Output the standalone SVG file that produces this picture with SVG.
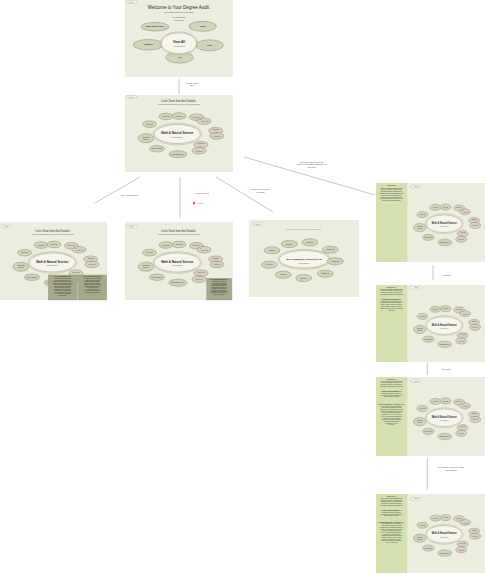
<svg xmlns="http://www.w3.org/2000/svg" width="485" height="573" viewBox="0 0 485 573">
<style>
text{font-family:"Liberation Sans",Arial,sans-serif}
.bg{fill:#ebeedf}
.tag{fill:#f7f7f1;stroke:#9a9a8c;stroke-width:0.3}
.tagt{font-size:1.2px;fill:#555;text-anchor:middle}
.t1{font-size:4.5px;fill:#2a2a2a;text-anchor:middle}
.t2{font-size:3px;fill:#2a2a2a;text-anchor:middle}
.st{font-size:1.2px;fill:#444;text-anchor:middle}
.p{fill:#d0d5b9;stroke:#878c6c;stroke-width:0.5}
.q{fill:#d7d0bf;stroke:#97846f;stroke-width:0.5}
.pt{font-size:1.6px;fill:#2a2a2a;text-anchor:middle}
.core{fill:#f6f5eb;stroke:#959879;stroke-width:0.5}
.ring{fill:none;stroke:#cfae9f;stroke-width:0.6}
.ct{font-size:2.9px;font-weight:bold;fill:#1e1e1e;text-anchor:middle}
.cs{font-size:1.3px;fill:#555;text-anchor:middle}
.conn{stroke:#999;stroke-width:0.55;fill:none}
.lbl{font-size:1.5px;fill:#3a3a3a;text-anchor:middle}
.side{fill:#d5e0b1}
.sh{font-size:1.5px;font-weight:bold;fill:#2a2a2a;text-anchor:middle}
.sx{font-size:1.8px;fill:#333;text-anchor:middle}
.sb{font-size:1.25px;fill:#333;text-anchor:middle}
.pop{fill:#a6a88a;stroke:#7f8167;stroke-width:0.3}
.ph{font-size:1.2px;font-weight:bold;fill:#1e1e1e;text-anchor:middle}
.pb{font-size:1.05px;fill:#222;text-anchor:middle}
</style>
<defs>
<g id="cluster">
<ellipse class="ring" rx="24.5" ry="10.8"/>
<ellipse class="core" rx="23" ry="9.5"/>
<text class="ct" y="0">Math &amp; Natural Science</text>
<text class="cs" y="3.6">credits remaining: 6</text>
<ellipse class="p" cx="-11.3" cy="-17.5" rx="7" ry="3.3"/>
<ellipse class="p" cx="1.7" cy="-18" rx="7" ry="3.3"/>
<ellipse class="q" cx="19.2" cy="-16.8" rx="7" ry="3.3"/>
<ellipse class="q" cx="26.7" cy="-12.8" rx="7" ry="3.3"/>
<ellipse class="p" cx="-27.8" cy="-9.8" rx="7" ry="3.3"/>
<ellipse class="q" cx="38.4" cy="-3.3" rx="7" ry="3.3"/>
<ellipse class="q" cx="39.7" cy="1.9" rx="7" ry="3.3"/>
<ellipse class="p" cx="-31.3" cy="4.2" rx="8" ry="4.5"/>
<ellipse class="q" cx="23.7" cy="10.7" rx="7" ry="3.3"/>
<ellipse class="q" cx="21.7" cy="16.7" rx="7" ry="3.3"/>
<ellipse class="p" cx="-20.3" cy="14.7" rx="7.5" ry="3.3"/>
<ellipse class="p" cx="0.7" cy="20.2" rx="9" ry="3.5"/>
<text class="pt" x="-11.3" y="-16.9">MATH 20</text>
<text class="pt" x="1.7" y="-17.4">MATH 21</text>
<text class="pt" x="18.6" y="-16.4">MATH 10</text>
<text class="pt" x="23" y="-14">&amp;</text>
<text class="pt" x="27.5" y="-11.6">MATH 11</text>
<text class="pt" x="-27.8" y="-9.2">MATH 25</text>
<text class="pt" x="38.4" y="-3.6">CS Intro</text>
<text class="pt" x="39" y="-0.6">&amp;</text>
<text class="pt" x="39.7" y="2.9">MATH 31</text>
<text class="pt" x="-31.3" y="3.8">Find a Bio</text>
<text class="pt" x="-31.3" y="5.9">Elective</text>
<text class="pt" x="23.7" y="10.2">MATH 35</text>
<text class="pt" x="22.7" y="13.4">&amp;</text>
<text class="pt" x="21.7" y="17.8">MATH 36</text>
<text class="pt" x="-20.3" y="15.3">MATH Elective</text>
<text class="pt" x="0.7" y="20.7" style="font-size:1.4px">BIOCHEMISTRY (2)</text>
</g>
</defs>

<g id="frame1">
<rect class="bg" x="125" y="0" width="108" height="77"/>
<rect class="tag" x="125.7" y="0.8" width="11" height="2.6" rx="1.3"/>
<text class="tagt" x="131.2" y="2.6">Frame 1</text>
<text class="t1" x="179" y="8.5">Welcome to Your Degree Audit.</text>
<text class="st" x="179" y="12.6">Click on a category below to explore your requirements.</text>
<text class="st" x="179" y="17.8">Major: Computer Science</text>
<text class="st" x="179" y="20.5">Minor: Engineering</text>
<ellipse class="p" cx="155" cy="26.7" rx="14" ry="4.3"/>
<ellipse class="p" cx="202.7" cy="26.3" rx="13.7" ry="5"/>
<ellipse class="p" cx="148.3" cy="44.7" rx="15" ry="5.3"/>
<ellipse class="p" cx="209.5" cy="45.3" rx="13.8" ry="5.5"/>
<ellipse class="p" cx="179.5" cy="57.5" rx="13.8" ry="5.6"/>
<ellipse class="ring" cx="179" cy="43.3" rx="19" ry="11.6"/>
<ellipse class="core" cx="179" cy="43.3" rx="17.7" ry="10.5"/>
<text class="pt" x="155" y="27.3" style="font-weight:bold">Math &amp; Natural Science</text>
<text class="pt" x="202.7" y="26.9" style="font-weight:bold">Writing</text>
<text class="pt" x="148.3" y="45.3" style="font-weight:bold">Humanities</text>
<text class="pt" x="209.5" y="45.9" style="font-weight:bold">Health</text>
<text class="pt" x="179.5" y="58.1" style="font-weight:bold">Arts</text>
<text class="ct" x="179" y="43.2" style="font-size:3.2px">View All</text>
<text class="cs" x="179" y="46.8">credits remaining: 42</text>
</g>

<g id="frame2">
<rect class="bg" x="125" y="95" width="108" height="77"/>
<rect class="tag" x="125.7" y="95.7" width="11" height="2.6" rx="1.3"/>
<text class="tagt" x="131.2" y="97.5">Frame 2</text>
<text class="t2" x="179" y="101.6">Let's Dive Into the Details.</text>
<text class="st" x="179" y="105">To complete Math &amp; Natural Science requirement, click on a class to see details.</text>
<use href="#cluster" transform="translate(177.3,134)"/>
</g>

<g id="frame3">
<rect class="bg" x="0" y="222" width="107" height="78"/>
<rect class="tag" x="1" y="225.3" width="11" height="2.6" rx="1.3"/>
<text class="tagt" x="6.5" y="227.1">Frame 3</text>
<text class="t2" x="53" y="231.5">Let's Dive Into the Details.</text>
<text class="st" x="53" y="235.2">To complete Math &amp; Natural Science requirement, click on a class to see details.</text>
<use href="#cluster" transform="translate(52.3,262.5)"/>
<rect class="pop" x="48.3" y="275" width="29" height="25"/>
<text class="ph" x="62.8" y="277.2">MATH 105 Calculus for Bio (4)</text>
<text class="pb" x="62.8" y="279">Introduction to differential and integral</text>
<text class="pb" x="62.8" y="280.5">calculus with applications to the life</text>
<text class="pb" x="62.8" y="282">sciences. Topics include limits, derivatives,</text>
<text class="pb" x="62.8" y="283.5">optimization, exponential growth and decay,</text>
<text class="pb" x="62.8" y="285">and elementary differential equations.</text>
<text class="pb" x="62.8" y="286.5">Models of population dynamics and</text>
<text class="pb" x="62.8" y="288">biochemical kinetics are discussed.</text>
<text class="pb" x="62.8" y="289.5">Prerequisite: MATH 10 or placement.</text>
<text class="pb" x="62.8" y="291">Satisfies the Math &amp; Natural Science</text>
<text class="pb" x="62.8" y="292.5">requirement. Offered every semester.</text>
<text class="pb" x="62.8" y="294">Three lectures and one discussion</text>
<text class="pb" x="62.8" y="295.5">section per week.</text>
<rect class="pop" x="78.3" y="275" width="28.4" height="25"/>
<text class="ph" x="92.5" y="277.2">MATH 106 Calculus II for Bio (4)</text>
<text class="pb" x="92.5" y="279">Continuation of MATH 105. Integration</text>
<text class="pb" x="92.5" y="280.5">techniques, sequences and series,</text>
<text class="pb" x="92.5" y="282">probability distributions and an</text>
<text class="pb" x="92.5" y="283.5">introduction to linear algebra with</text>
<text class="pb" x="92.5" y="285">applications to genetics, ecology and</text>
<text class="pb" x="92.5" y="286.5">physiology. Emphasis on modeling</text>
<text class="pb" x="92.5" y="288">real biological data sets.</text>
<text class="pb" x="92.5" y="289.5">Prerequisite: MATH 105.</text>
<text class="pb" x="92.5" y="291">Satisfies the Math &amp; Natural Science</text>
<text class="pb" x="92.5" y="292.5">requirement. Offered spring only.</text>
</g>

<g id="frame4">
<rect class="bg" x="125" y="222" width="108" height="78"/>
<rect class="tag" x="126" y="225.3" width="11" height="2.6" rx="1.3"/>
<text class="tagt" x="131.5" y="227.1">Frame 4</text>
<text class="t2" x="179" y="231.5">Let's Dive Into the Details.</text>
<text class="st" x="179" y="235.2">To complete Math &amp; Natural Science requirement, click on a class to see details.</text>
<use href="#cluster" transform="translate(177.3,262.5)"/>
<rect class="pop" x="206.7" y="278.3" width="25" height="21.7"/>
<text class="ph" x="219.2" y="280.4">MATH 105 Calculus for Bio (4)</text>
<text class="pb" x="219.2" y="282.2">Introduction to differential and</text>
<text class="pb" x="219.2" y="283.6">integral calculus with applications</text>
<text class="pb" x="219.2" y="285">to the life sciences. Topics include</text>
<text class="pb" x="219.2" y="286.4">limits, derivatives, optimization,</text>
<text class="pb" x="219.2" y="287.8">exponential growth and decay, and</text>
<text class="pb" x="219.2" y="289.2">elementary differential equations.</text>
<text class="pb" x="219.2" y="290.6">Models of population dynamics and</text>
<text class="pb" x="219.2" y="292">biochemical kinetics are discussed.</text>
<text class="pb" x="219.2" y="293.4">Prerequisite: MATH 10 or placement.</text>
<text class="pb" x="219.2" y="294.8">Offered every semester.</text>
</g>

<g id="frame5">
<rect class="bg" x="249" y="220" width="110" height="77"/>
<rect class="tag" x="252.7" y="222.7" width="10" height="2.6" rx="1.3"/>
<text class="tagt" x="257.7" y="224.5">Frame 5</text>
<text class="st" x="303" y="229.7" style="font-size:2px;fill:#8a8a80">You must take 2 of the following courses</text>
<ellipse class="ring" cx="304.3" cy="259.3" rx="26.5" ry="10"/>
<ellipse class="core" cx="304.3" cy="259.3" rx="25" ry="8.7"/>
<text class="ct" x="304.3" y="260" style="font-size:2.5px">BIOCHEMISTRY ELECTIVE (2)</text>
<text class="cs" x="304.3" y="263.7">credits remaining: 6</text>
<ellipse class="p" cx="289.3" cy="244" rx="8" ry="3.6"/>
<ellipse class="p" cx="310" cy="242.3" rx="8" ry="3.6"/>
<ellipse class="p" cx="330.3" cy="249.7" rx="8" ry="3.6"/>
<ellipse class="p" cx="335.3" cy="261.3" rx="8" ry="3.6"/>
<ellipse class="p" cx="325.3" cy="273.7" rx="8" ry="3.6"/>
<ellipse class="p" cx="303.7" cy="278" rx="8" ry="3.6"/>
<ellipse class="p" cx="283.3" cy="274.7" rx="8" ry="3.6"/>
<ellipse class="p" cx="269.3" cy="264.7" rx="8" ry="3.6"/>
<ellipse class="p" cx="272" cy="250.3" rx="8" ry="3.6"/>
<text class="pt" x="289.3" y="244.6">BIO 120</text>
<text class="pt" x="310" y="242.9">BIO 130</text>
<text class="pt" x="330.3" y="250.3">CHEM 140</text>
<text class="pt" x="335.3" y="261.9">CHEM 150</text>
<text class="pt" x="325.3" y="274.3">CHEM 160</text>
<text class="pt" x="303.7" y="278.6">BIO 170</text>
<text class="pt" x="283.3" y="275.3">BIO 180</text>
<text class="pt" x="269.3" y="265.3">PHYS 190</text>
<text class="pt" x="272" y="250.9">BIO 110</text>
</g>

<g id="frame6">
<rect class="bg" x="376" y="183" width="109" height="79"/>
<rect class="side" x="376" y="183" width="31.3" height="79"/>
<rect class="tag" x="410.5" y="185.3" width="11" height="2.6" rx="1.3"/>
<text class="tagt" x="416" y="187.1">‹ Frame 6</text>
<text class="sh" x="391.5" y="186.2">MATH 10 (4)</text>
<text class="sx" x="405.5" y="186.4">×</text>
<text class="sb" x="391.5" y="188.6">Topics in precalculus including functions,</text>
<text class="sb" x="391.5" y="190.4">graphs, polynomials, exponential and</text>
<text class="sb" x="391.5" y="192.2">logarithmic functions, and trigonometry.</text>
<text class="sb" x="391.5" y="194">Emphasis on problem solving and modeling</text>
<text class="sb" x="391.5" y="195.8">applications in the natural sciences.</text>
<text class="sb" x="391.5" y="197.6">Prepares students for calculus sequence.</text>
<text class="sb" x="391.5" y="199.4">Prerequisite: placement exam or MATH 5.</text>
<text class="sb" x="391.5" y="201.2">Offered fall and spring semesters.</text>
<use href="#cluster" transform="translate(444.2,223.7) scale(0.78,0.93)"/>
</g>

<g id="frame7">
<rect class="bg" x="376" y="285" width="109" height="77"/>
<rect class="side" x="376" y="285" width="31.3" height="77"/>
<rect class="tag" x="410.5" y="286.3" width="11" height="2.6" rx="1.3"/>
<text class="tagt" x="416" y="288.1">‹ Frame 7</text>
<text class="sh" x="391.5" y="287.6">MATH 10 (4)</text>
<text class="sx" x="405.5" y="287.8">×</text>
<text class="sb" x="391.5" y="289.6">Topics in precalculus including functions,</text>
<text class="sb" x="391.5" y="291.4">graphs, polynomials, exponential and</text>
<text class="sb" x="391.5" y="293.2">logarithmic functions, and trigonometry.</text>
<text class="sb" x="391.5" y="295">Prerequisite: placement exam.  read more</text>
<text class="sh" x="391.5" y="299.6">CHEM 10 Intro Chemistry (4)</text>
<text class="sb" x="391.5" y="301.6">Fundamental principles of chemistry:</text>
<text class="sb" x="391.5" y="303.4">atomic structure, bonding, stoichiometry,</text>
<text class="sb" x="391.5" y="305.2">states of matter, solutions, equilibrium,</text>
<text class="sb" x="391.5" y="307">acids and bases. Laboratory included.</text>
<text class="sb" x="391.5" y="308.8">Satisfies the Natural Science requirement.</text>
<text class="sb" x="391.5" y="310.6">read more</text>
<use href="#cluster" transform="translate(444.2,325.5) scale(0.78,0.93)"/>
</g>

<g id="frame8">
<rect class="bg" x="376" y="377" width="109" height="79"/>
<rect class="side" x="376" y="377" width="31.3" height="79"/>
<rect class="tag" x="410.5" y="379.7" width="11" height="2.6" rx="1.3"/>
<text class="tagt" x="416" y="381.5">‹ Frame 8</text>
<text class="sh" x="391.5" y="379.8">MATH 10 (4)</text>
<text class="sx" x="405.5" y="380">×</text>
<text class="sb" x="391.5" y="381.7">Topics in precalculus including functions,</text>
<text class="sb" x="391.5" y="383.4">graphs, polynomials, exponential and</text>
<text class="sb" x="391.5" y="385.1">logarithmic functions, and trigonometry.</text>
<text class="sb" x="391.5" y="386.8">Prerequisite: placement exam.  read more</text>
<text class="sh" x="391.5" y="392.2">CHEM 10 Intro Chemistry (4)</text>
<text class="sb" x="391.5" y="394">Fundamental principles of chemistry:</text>
<text class="sb" x="391.5" y="395.7">atomic structure, bonding, stoichiometry,</text>
<text class="sb" x="391.5" y="397.4">states of matter.  read more</text>
<text class="sh" x="391.5" y="404.8">MATH 20 Calculus I (4), MATH 40 (4)</text>
<text class="sb" x="391.5" y="406.6">Limits, continuity, derivatives and their</text>
<text class="sb" x="391.5" y="408.3">applications; introduction to definite</text>
<text class="sb" x="391.5" y="410">integrals and the fundamental theorem of</text>
<text class="sb" x="391.5" y="411.7">calculus. Applications to rates of change</text>
<text class="sb" x="391.5" y="413.4">in physics, chemistry and biology.</text>
<text class="sb" x="391.5" y="415.1">Prerequisite: MATH 10 or placement.</text>
<text class="sb" x="391.5" y="416.8">MATH 40: Linear algebra and matrices,</text>
<text class="sb" x="391.5" y="418.5">vector spaces, eigenvalues and</text>
<text class="sb" x="391.5" y="420.2">applications to systems of differential</text>
<text class="sb" x="391.5" y="421.9">equations and data analysis.</text>
<text class="sb" x="391.5" y="423.6">Prerequisite: MATH 20.</text>
<text class="sb" x="391.5" y="425.3">read more</text>
<use href="#cluster" transform="translate(444.2,417.7) scale(0.78,0.93)"/>
</g>

<g id="frame9">
<rect class="bg" x="376" y="494" width="109" height="79"/>
<rect class="side" x="376" y="494" width="31.3" height="79"/>
<rect class="tag" x="410.5" y="497.5" width="11" height="2.6" rx="1.3"/>
<text class="tagt" x="416" y="499.3">‹ Frame 9</text>
<text class="sh" x="391.5" y="497.2">MATH 10 (4)</text>
<text class="sx" x="405.5" y="497.4">×</text>
<text class="sb" x="391.5" y="499">Topics in precalculus including functions,</text>
<text class="sb" x="391.5" y="500.7">graphs, polynomials, exponential and</text>
<text class="sb" x="391.5" y="502.4">logarithmic functions, and trigonometry.</text>
<text class="sb" x="391.5" y="504.1">Emphasis on modeling applications.</text>
<text class="sb" x="391.5" y="505.8">Prerequisite: placement exam.  read more</text>
<text class="sh" x="391.5" y="511.2">CHEM 10 Intro Chemistry (4)</text>
<text class="sb" x="391.5" y="513">Fundamental principles of chemistry:</text>
<text class="sb" x="391.5" y="514.7">atomic structure, bonding, stoichiometry,</text>
<text class="sb" x="391.5" y="516.4">states of matter.  read more</text>
<text class="sh" x="391.5" y="522.6">MATH 20 Calculus I (4), MATH 40 (4)</text>
<text class="sb" x="391.5" y="524.4">Limits, continuity, derivatives and their</text>
<text class="sb" x="391.5" y="526.1">applications; introduction to definite</text>
<text class="sb" x="391.5" y="527.8">integrals and the fundamental theorem of</text>
<text class="sb" x="391.5" y="529.5">calculus. Applications to rates of change</text>
<text class="sb" x="391.5" y="531.2">in physics, chemistry and biology.</text>
<text class="sb" x="391.5" y="532.9">MATH 40: Linear algebra and matrices,</text>
<text class="sb" x="391.5" y="534.6">vector spaces, eigenvalues and</text>
<text class="sb" x="391.5" y="536.3">applications to systems of differential</text>
<text class="sb" x="391.5" y="538">equations, Markov chains, and data</text>
<text class="sb" x="391.5" y="539.7">analysis in the sciences. Includes a</text>
<text class="sb" x="391.5" y="541.4">computing component. Prerequisite:</text>
<text class="sb" x="391.5" y="543.1">MATH 20.  show less</text>
<use href="#cluster" transform="translate(444.2,534.3) scale(0.78,0.93)"/>
</g>

<g id="connectors">
<line class="conn" x1="179" y1="79" x2="179" y2="94"/>
<line class="conn" x1="140" y1="177" x2="95" y2="203"/>
<line class="conn" x1="180" y1="177" x2="180" y2="218"/>
<line class="conn" x1="216" y1="177" x2="273" y2="212"/>
<line class="conn" x1="244" y1="157" x2="375" y2="195"/>
<line class="conn" x1="433" y1="265" x2="433" y2="280"/>
<line class="conn" x1="427.3" y1="363" x2="427.3" y2="375"/>
<line class="conn" x1="427.3" y1="458" x2="427.3" y2="490"/>
</g>

<g id="labels">
<text class="lbl" x="192.3" y="84" style="font-size:1.3px">Click Math &amp; Natural</text>
<text class="lbl" x="192.3" y="86" style="font-size:1.3px">Science</text>
<text class="lbl" x="129.3" y="195.8">Click 'X' to collapse details</text>
<text class="lbl" x="201.7" y="193.8">Hover over MATH105</text>
<polygon fill="#d8323a" points="194,201.2 194.5,202.4 195.7,202.5 194.8,203.3 195.1,204.6 194,203.9 192.9,204.6 193.2,203.3 192.3,202.5 193.5,202.4"/>
<text x="197" y="203.5" style="font-size:1.3px;fill:#4a6fb0">Hidden icon</text>
<text class="lbl" x="260.7" y="190.3">Click on group of electives to</text>
<text class="lbl" x="260.7" y="192.6">see options</text>
<text class="lbl" x="311.7" y="163">Click a class to add it and its course</text>
<text class="lbl" x="311.7" y="165.4">description to the sidebar for comparison with</text>
<text class="lbl" x="311.7" y="167.8">other classes</text>
<text class="lbl" x="446.8" y="275.8">click Chem</text>
<text class="lbl" x="446" y="369.8">click Math 20</text>
<text class="lbl" x="450.7" y="468">click "read more" of Math 40 to expand</text>
<text class="lbl" x="450.7" y="470.5">course description</text>
</g>
</svg>
